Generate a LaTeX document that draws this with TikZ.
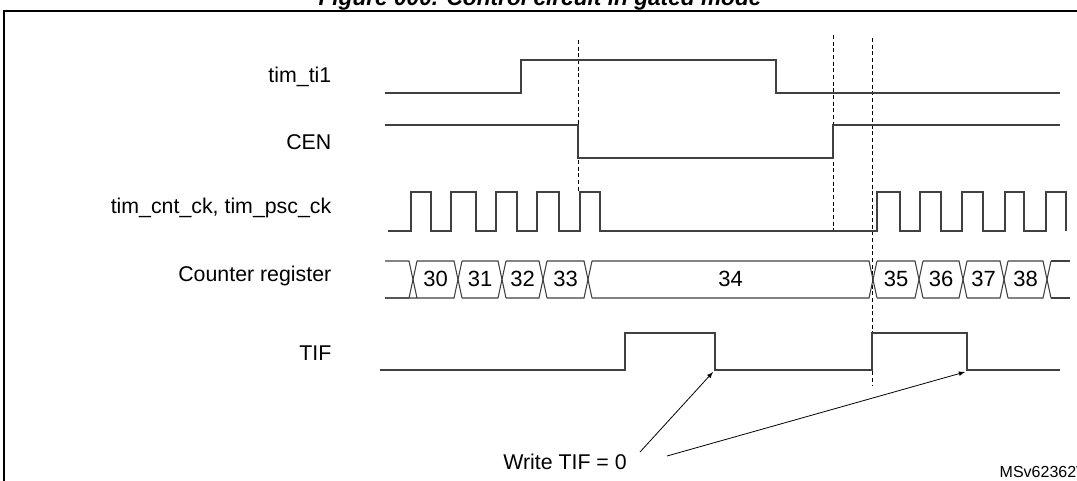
\documentclass[tikz,border=0pt]{standalone}
\usepackage{fontspec}
\setmainfont{Liberation Sans}
\begin{document}
\begin{tikzpicture}[x=0.75pt,y=-0.75pt,
  sig/.style={draw=black!75,line width=0.8pt},
  vdash/.style={draw=black,line width=0.5pt,dash pattern=on 3pt off 2pt},
  lbl/.style={anchor=east,font=\fontsize{16}{18}\selectfont},
  num/.style={font=\fontsize{16.5}{18}\selectfont},
  arr/.style={draw=black,line width=0.6pt,-latex}]
\useasboundingbox (0,0) rectangle (1077,481);
\clip (0,0) rectangle (1077,481);
\node[anchor=base,font=\bfseries\itshape\fontsize{17}{19}\selectfont] (title) at (540,6) {Figure 000. Control circuit in gated mode};
\draw[line width=1.2pt] (4,1000) -- (4,11) -- (1100,11);
% labels
\node[lbl] (l1) at (336,77) {tim\_ti1};
\node[lbl] (l2) at (336,142) {CEN};
\node[lbl] (l3) at (336,208) {tim\_cnt\_ck, tim\_psc\_ck};
\node[lbl] (l4) at (336,276) {Counter register};
\node[lbl] (l5) at (336,353) {TIF};
% dashed
\draw[vdash] (578,40) -- (578,192);
\draw[vdash] (833,35) -- (833,232);
\draw[vdash] (872,38) -- (872,385);
% tim_ti1
\draw[sig] (385,93) -- (521,93) -- (521,60) -- (776,60) -- (776,93) -- (1060,93);
% CEN
\draw[sig] (385,125) -- (578,125) -- (578,158) -- (833,158) -- (833,125) -- (1060,125);
% clock
\draw[sig] (388,231) -- (411,231) -- (411,192) -- (431,192) -- (431,231)
 -- (451,231) -- (451,192) -- (476,192) -- (476,231)
 -- (496,231) -- (496,192) -- (517,192) -- (517,231)
 -- (537,231) -- (537,192) -- (559,192) -- (559,231)
 -- (580,231) -- (580,192) -- (600,192) -- (600,231)
 -- (877,231) -- (877,192) -- (900,192) -- (900,231)
 -- (920,231) -- (920,192) -- (941,192) -- (941,231)
 -- (962,231) -- (962,192) -- (983,192) -- (983,231)
 -- (1005,231) -- (1005,192) -- (1024,192) -- (1024,231)
 -- (1046,231) -- (1046,192) -- (1066,192) -- (1066,231);
% counter bus
\def\ty{261}\def\by{298}
\draw[sig] (385,\ty) -- (409,\ty) -- (417,\by) -- (385,\by);
\draw[sig] (385,\by) -- (409,\by) -- (417,\ty);
\foreach \a/\b/\n in {413/458/30,458/502/31,502/543/32,543/588/33,588/873/34,873/919/35,919/963/36,963/1004/37,1004/1047/38}{
  \draw[sig] (\a+4,\ty) -- (\b-4,\ty) -- (\b+4,\by);
  \draw[sig] (\a+4,\by) -- (\b-4,\by) -- (\b+4,\ty);
  \node[num] (c\n) at ({(\a+\b)/2},279) {\n};
}
\draw[sig] (1051,\ty) -- (1070,\ty);
\draw[sig] (1051,\by) -- (1070,\by);
% TIF
\draw[sig] (380,370) -- (625,370) -- (625,333) -- (715,333) -- (715,370) -- (872,370) -- (872,333) -- (967,333) -- (967,370) -- (1060,370);
\coordinate (f1) at (713,372);
\coordinate (f2) at (965,372);
\node[font=\fontsize{16}{18}\selectfont] (w) at (565,462) {Write TIF = 0};
\coordinate (s1) at (640,452);
\coordinate (s2) at (667,456);
\draw[arr] (s1) -- (f1);
\draw[arr] (s2) -- (f2);
\node[anchor=base west,font=\fontsize{12}{14}\selectfont] (id) at (995,477) {MSv62362V1};
\end{tikzpicture}
\end{document}
